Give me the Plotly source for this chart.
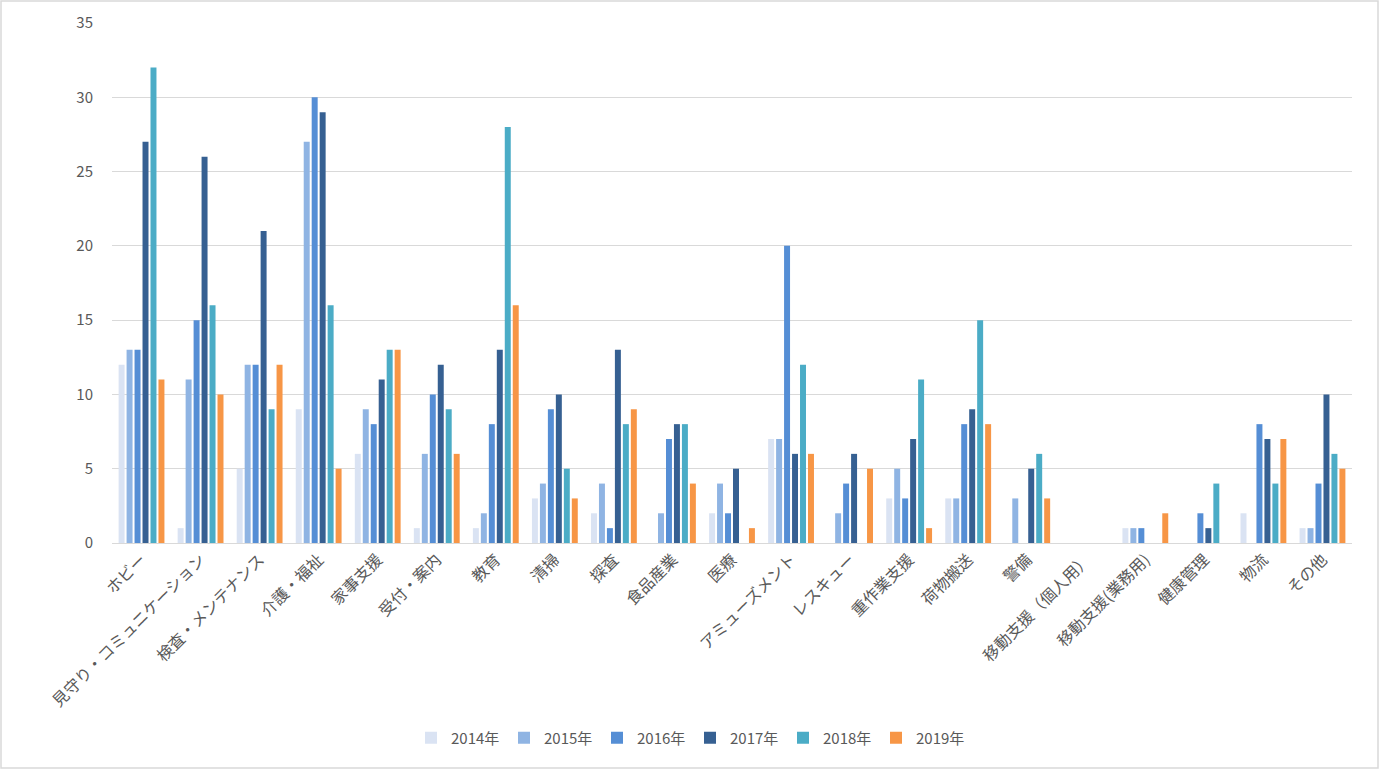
import plotly.graph_objects as go

categories = [
    "ホビー", "見守り・コミュニケーション", "検査・メンテナンス", "介護・福祉",
    "家事支援", "受付・案内", "教育", "清掃", "探査", "食品産業", "医療",
    "アミューズメント", "レスキュー", "重作業支援", "荷物搬送", "警備",
    "移動支援（個人用）", "移動支援(業務用)", "健康管理", "物流", "その他",
]

years = ["2014年", "2015年", "2016年", "2017年", "2018年", "2019年"]

v2014 = [12, 1, 5, 9, 6, 1, 1, 3, 2, 0, 2, 7, 0, 3, 3, 0, 0, 1, 0, 2, 1]
v2015 = [13, 11, 12, 27, 9, 6, 2, 4, 4, 2, 4, 7, 2, 5, 3, 3, 0, 1, 0, 0, 1]
v2016 = [13, 15, 12, 30, 8, 10, 8, 9, 1, 7, 2, 20, 4, 3, 8, 0, 0, 1, 2, 8, 4]
v2017 = [27, 26, 21, 29, 11, 12, 13, 10, 13, 8, 5, 6, 6, 7, 9, 5, 0, 0, 1, 7, 10]
v2018 = [32, 16, 9, 16, 13, 9, 28, 5, 8, 8, 0, 12, 0, 11, 15, 6, 0, 0, 4, 4, 6]
v2019 = [11, 10, 12, 5, 13, 6, 16, 3, 9, 4, 1, 6, 5, 1, 8, 3, 0, 2, 0, 7, 5]

series = [v2014, v2015, v2016, v2017, v2018, v2019]
colors = ["#DAE3F3", "#8FB4E3", "#558ED5", "#366092", "#4BACC6", "#F79646"]

W, H = 1379, 769
ml, mr, mt, mb = 112, 27, 23, 226
pw = W - ml - mr
ph = H - mt - mb

fig = go.Figure()
for name, vals, col in zip(years, series, colors):
    fig.add_trace(go.Bar(x=categories, y=vals, name=name, marker_color=col,
                         marker_line_width=0))

font_family = "Noto Sans CJK JP, Noto Sans, sans-serif"

fig.update_layout(
    width=W, height=H,
    margin=dict(l=ml, r=mr, t=mt, b=mb),
    paper_bgcolor="white", plot_bgcolor="white",
    barmode="group", bargap=0.19, bargroupgap=0.25,
    font=dict(family=font_family, color="#595959", size=15),
    showlegend=True,
    legend=dict(orientation="h", x=(690 - ml) / pw, xanchor="center",
                y=(H - mb - 738) / ph, yanchor="middle",
                font=dict(size=15, color="#595959"),
                itemwidth=30, entrywidth=48, entrywidthmode="pixels",
                traceorder="normal"),
    xaxis=dict(tickangle=-45, tickfont=dict(size=16, color="#595959"),
               showline=True, linecolor="#D9D9D9", linewidth=1,
               showgrid=False, ticks=""),
    yaxis=dict(range=[0, 35], dtick=5, showgrid=True, gridcolor="#D9D9D9",
               gridwidth=1, zeroline=False, tickfont=dict(size=15, color="#595959"),
               ticks="", showline=False, ticklabelstandoff=18),
    shapes=[dict(type="rect", xref="paper", yref="paper",
                 x0=-(ml - 1) / pw, x1=1 + (mr - 1) / pw,
                 y0=-(mb - 1) / ph, y1=1 + (mt - 1) / ph,
                 line=dict(color="#D9D9D9", width=1.5), layer="below")],
)

# drop the page margin so the figure sits at the window corner
fig.write_html("out.html", config={"displayModeBar": False},
               post_script="document.body.style.margin='0';")
